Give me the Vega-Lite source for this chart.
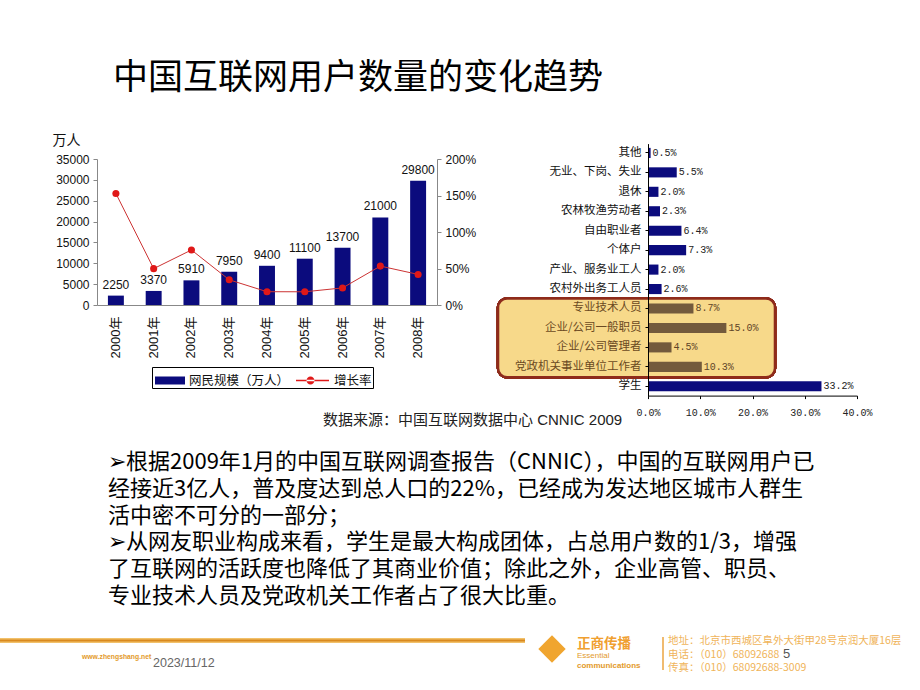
{
  "$schema": "https://vega.github.io/schema/vega-lite/v6.json",
  "width": 920,
  "height": 690,
  "padding": 0,
  "autosize": "none",
  "background": "white",
  "config": {"view": {"stroke": null}, "axis": {"grid": false}},
  "data": {"values": [{}]},
  "layer": [
    {
      "data": {"values": [
        {"year": "2000年", "users": 2250, "growth": 1.528},
        {"year": "2001年", "users": 3370, "growth": 0.498},
        {"year": "2002年", "users": 5910, "growth": 0.754},
        {"year": "2003年", "users": 7950, "growth": 0.345},
        {"year": "2004年", "users": 9400, "growth": 0.182},
        {"year": "2005年", "users": 11100, "growth": 0.181},
        {"year": "2006年", "users": 13700, "growth": 0.234},
        {"year": "2007年", "users": 21000, "growth": 0.533},
        {"year": "2008年", "users": 29800, "growth": 0.419}
      ]},
      "layer": [
        {"layer": [
          {"mark": {"type": "bar"},
           "encoding": {
             "x": {"field": "year", "type": "ordinal", "scale": {"range": [97, 437], "paddingInner": 0.578, "paddingOuter": 0.289},
                   "axis": {"orient": "bottom", "offset": -385, "title": null, "labelAngle": -90, "labelFont": "Liberation Sans, Noto Sans CJK SC", "labelFontSize": 13, "labelColor": "#111", "ticks": false, "labelPadding": 11, "domainColor": "#888"}},
             "y": {"field": "users", "type": "quantitative", "scale": {"domain": [0, 35000], "range": [305, 159], "nice": false},
                   "axis": {"orient": "left", "offset": -97, "values": [0, 5000, 10000, 15000, 20000, 25000, 30000, 35000], "format": "d", "title": "万人", "titleAngle": 0, "titleAlign": "left", "titleBaseline": "bottom", "titleX": -45, "titleY": 147, "titleFont": "Noto Sans CJK SC", "titleFontSize": 14, "titleFontWeight": "normal", "titleColor": "#111", "labelFont": "Liberation Sans", "labelFontSize": 12, "labelColor": "#111", "tickSize": 4, "tickColor": "#888", "domainColor": "#888", "labelPadding": 4}},
             "color": {"datum": "网民规模（万人）", "type": "nominal",
                       "scale": {"domain": ["网民规模（万人）", "增长率"], "range": ["#0B0B7D", "#E01818"]},
                       "legend": {"orient": "none", "legendX": 152, "legendY": 367, "direction": "horizontal", "title": null, "strokeColor": "#000", "fillColor": "white", "padding": 1, "symbolSize": 625,
                                  "symbolType": {"expr": "datum.value === '增长率' ? 'M-1.16,-0.06H1.48V0.06H-1.16Z M-0.32,0A0.32,0.32 0 1,0 0.32,0A0.32,0.32 0 1,0 -0.32,0Z' : 'M-0.84,-0.32H1.56V0.32H-0.84Z'"},
                                  "symbolStrokeWidth": 0, "symbolOpacity": 1, "labelFont": "Noto Sans CJK SC", "labelFontSize": 12.5, "labelColor": "#111", "labelOffset": 11, "columnPadding": 6}}
           }},
          {"mark": {"type": "text", "baseline": "bottom", "dy": -4, "font": "Liberation Sans", "fontSize": 12, "color": "#111"},
           "encoding": {
             "x": {"field": "year", "type": "ordinal", "scale": {"range": [97, 437], "paddingInner": 0.578, "paddingOuter": 0.289}},
             "y": {"field": "users", "type": "quantitative"},
             "text": {"field": "users", "type": "quantitative", "format": "d"}
           }}
        ]},
        {"layer": [
          {"mark": {"type": "line", "color": "#CC3333", "strokeWidth": 1},
           "encoding": {
             "x": {"field": "year", "type": "ordinal", "scale": {"range": [97, 437], "paddingInner": 0.578, "paddingOuter": 0.289}},
             "y": {"field": "growth", "type": "quantitative", "scale": {"domain": [0, 2], "range": [305, 159], "nice": false},
                   "axis": {"orient": "right", "offset": -483, "values": [0, 0.5, 1, 1.5, 2], "format": ".0%", "title": null, "labelFont": "Liberation Sans", "labelFontSize": 12, "labelColor": "#111", "tickSize": 4, "tickColor": "#888", "domainColor": "#888", "labelPadding": 4}}
           }},
          {"mark": {"type": "point", "filled": true, "size": 50, "opacity": 1},
           "encoding": {
             "x": {"field": "year", "type": "ordinal", "scale": {"range": [97, 437], "paddingInner": 0.578, "paddingOuter": 0.289}},
             "y": {"field": "growth", "type": "quantitative"},
             "color": {"datum": "增长率", "type": "nominal"}
           }}
        ]}
      ],
      "resolve": {"scale": {"y": "independent"}, "axis": {"y": "independent"}}
    },
    {
      "data": {"values": [
        {"occ": "其他", "pct": 0.5},
        {"occ": "无业、下岗、失业", "pct": 5.5},
        {"occ": "退休", "pct": 2.0},
        {"occ": "农林牧渔劳动者", "pct": 2.3},
        {"occ": "自由职业者", "pct": 6.4},
        {"occ": "个体户", "pct": 7.3},
        {"occ": "产业、服务业工人", "pct": 2.0},
        {"occ": "农村外出务工人员", "pct": 2.6},
        {"occ": "专业技术人员", "pct": 8.7},
        {"occ": "企业/公司一般职员", "pct": 15.0},
        {"occ": "企业/公司管理者", "pct": 4.5},
        {"occ": "党政机关事业单位工作者", "pct": 10.3},
        {"occ": "学生", "pct": 33.2}
      ]},
      "transform": [{"calculate": "format(datum.pct, '.1f') + '%'", "as": "label"}],
      "layer": [
        {"mark": {"type": "rect", "fill": "#F7D98A", "stroke": "#8E2B1B", "strokeWidth": 2.5, "cornerRadius": 9, "yOffset": -10, "y2Offset": 10.5},
         "encoding": {
           "x": {"datum": -28.7, "type": "quantitative", "scale": {"domain": [0, 40], "range": [648, 857], "nice": false}},
           "x2": {"datum": 24.3},
           "y": {"datum": "专业技术人员", "type": "nominal", "scale": {"domain": ["其他", "无业、下岗、失业", "退休", "农林牧渔劳动者", "自由职业者", "个体户", "产业、服务业工人", "农村外出务工人员", "专业技术人员", "企业/公司一般职员", "企业/公司管理者", "党政机关事业单位工作者", "学生"], "range": [143.6, 395.6], "paddingInner": 0.48, "paddingOuter": 0.22}},
           "y2": {"datum": "党政机关事业单位工作者"}
         }},
        {"mark": {"type": "bar"},
         "encoding": {
           "x": {"field": "pct", "type": "quantitative", "scale": {"domain": [0, 40], "range": [648, 857], "nice": false},
                 "axis": {"orient": "bottom", "offset": -294.4, "title": null, "values": [0, 10, 20, 30, 40], "labelExpr": "format(datum.value, '.1f') + '%'", "labelFont": "Liberation Mono", "labelFontSize": 10, "labelColor": "#222", "labelFlush": false, "tickSize": 3, "tickColor": "#000", "domainColor": "#000", "labelPadding": 9}},
           "y": {"field": "occ", "type": "nominal", "sort": null,
                 "scale": {"domain": ["其他", "无业、下岗、失业", "退休", "农林牧渔劳动者", "自由职业者", "个体户", "产业、服务业工人", "农村外出务工人员", "专业技术人员", "企业/公司一般职员", "企业/公司管理者", "党政机关事业单位工作者", "学生"], "range": [143.6, 395.6], "paddingInner": 0.48, "paddingOuter": 0.22},
                 "axis": {"orient": "left", "offset": -648, "title": null, "labelFont": "Noto Sans CJK SC", "labelFontSize": 11.5,
                          "labelColor": {"condition": {"test": "indexof(['专业技术人员','企业/公司一般职员','企业/公司管理者','党政机关事业单位工作者'], datum.value) >= 0", "value": "#6B4A22"}, "value": "#111"},
                          "tickSize": 3, "tickColor": "#000", "domainColor": "#000", "labelPadding": 4, "zindex": 1, "labelLimit": 200}},
           "color": {"condition": {"test": "indexof(['专业技术人员','企业/公司一般职员','企业/公司管理者','党政机关事业单位工作者'], datum.occ) >= 0", "value": "#735A3C"}, "value": "#0B0B7D"}
         }},
        {"mark": {"type": "text", "align": "left", "baseline": "middle", "dx": 2, "font": "Liberation Mono", "fontSize": 10},
         "encoding": {
           "x": {"field": "pct", "type": "quantitative"},
           "y": {"field": "occ", "type": "nominal", "sort": null},
           "text": {"field": "label"},
           "color": {"condition": {"test": "indexof(['专业技术人员','企业/公司一般职员','企业/公司管理者','党政机关事业单位工作者'], datum.occ) >= 0", "value": "#5E4428"}, "value": "#222"}
         }}
      ]
    },
    {
      "layer": [
        {"mark": {"type": "text", "text": "中国互联网用户数量的变化趋势", "align": "left", "baseline": "middle", "font": "Noto Sans CJK SC", "fontSize": 35, "color": "#000"},
         "encoding": {"x": {"datum": 113, "type": "quantitative", "scale": {"domain": [0, 920], "range": [0, 920], "nice": false, "zero": false}, "axis": null},
                      "y": {"datum": 78, "type": "quantitative", "scale": {"domain": [0, 690], "range": [0, 690], "nice": false, "zero": false}, "axis": null}}},
        {"mark": {"type": "text", "text": "数据来源：中国互联网数据中心 CNNIC 2009", "align": "left", "baseline": "middle", "font": "Liberation Sans, Noto Sans CJK SC", "fontSize": 15, "color": "#222"},
         "encoding": {"x": {"datum": 323, "type": "quantitative"}, "y": {"datum": 420, "type": "quantitative"}}},
        {"mark": {"type": "rect", "fill": {"gradient": "linear", "x1": 0, "y1": 0, "x2": 0, "y2": 1, "stops": [{"offset": 0, "color": "#F8CF7E"}, {"offset": 0.5, "color": "#D9891E"}, {"offset": 1, "color": "#F8CF7E"}]}},
         "encoding": {"x": {"datum": 0, "type": "quantitative"}, "x2": {"datum": 525}, "y": {"datum": 638, "type": "quantitative"}, "y2": {"datum": 643}}},
        {"mark": {"type": "text", "text": "www.zhengshang.net", "align": "left", "baseline": "middle", "font": "Liberation Sans", "fontSize": 6.8, "fontWeight": "bold", "color": "#E39A2B"},
         "encoding": {"x": {"datum": 82, "type": "quantitative"}, "y": {"datum": 657, "type": "quantitative"}}},
        {"mark": {"type": "text", "text": "2023/11/12", "align": "left", "baseline": "middle", "font": "Liberation Sans", "fontSize": 12.5, "color": "#666"},
         "encoding": {"x": {"datum": 153, "type": "quantitative"}, "y": {"datum": 663, "type": "quantitative"}}},
        {"mark": {"type": "point", "shape": "diamond", "filled": true, "size": 750, "color": "#F0A52F", "opacity": 1},
         "encoding": {"x": {"datum": 552, "type": "quantitative"}, "y": {"datum": 649, "type": "quantitative"}}},
        {"mark": {"type": "text", "text": "正商传播", "align": "left", "baseline": "middle", "font": "Noto Sans CJK SC", "fontSize": 13.5, "fontWeight": "bold", "color": "#F0A030"},
         "encoding": {"x": {"datum": 577, "type": "quantitative"}, "y": {"datum": 643.5, "type": "quantitative"}}},
        {"mark": {"type": "text", "text": "Essential", "align": "left", "baseline": "middle", "font": "Liberation Sans", "fontSize": 8, "color": "#E39A2B"},
         "encoding": {"x": {"datum": 577, "type": "quantitative"}, "y": {"datum": 656, "type": "quantitative"}}},
        {"mark": {"type": "text", "text": "communications", "align": "left", "baseline": "middle", "font": "Liberation Sans", "fontSize": 8, "fontWeight": "bold", "color": "#E39A2B"},
         "encoding": {"x": {"datum": 577, "type": "quantitative"}, "y": {"datum": 666, "type": "quantitative"}}},
        {"mark": {"type": "rule", "color": "#EBA540", "strokeWidth": 1.5},
         "encoding": {"x": {"datum": 663, "type": "quantitative"}, "y": {"datum": 637, "type": "quantitative"}, "y2": {"datum": 670}}},
        {"mark": {"type": "text", "text": "地址：北京市西城区阜外大街甲28号京润大厦16层", "align": "left", "baseline": "middle", "font": "Noto Sans CJK SC", "fontSize": 10.5, "color": "#F0B45A"},
         "encoding": {"x": {"datum": 668, "type": "quantitative"}, "y": {"datum": 641, "type": "quantitative"}}},
        {"mark": {"type": "text", "text": "电话：（010）68092688", "align": "left", "baseline": "middle", "font": "Noto Sans CJK SC", "fontSize": 10.5, "color": "#F0B45A"},
         "encoding": {"x": {"datum": 668, "type": "quantitative"}, "y": {"datum": 654.5, "type": "quantitative"}}},
        {"mark": {"type": "text", "text": "传真：（010）68092688-3009", "align": "left", "baseline": "middle", "font": "Noto Sans CJK SC", "fontSize": 10.5, "color": "#F0B45A"},
         "encoding": {"x": {"datum": 668, "type": "quantitative"}, "y": {"datum": 668, "type": "quantitative"}}},
        {"mark": {"type": "text", "text": "5", "align": "left", "baseline": "middle", "font": "Liberation Sans", "fontSize": 13, "color": "#555"},
         "encoding": {"x": {"datum": 783, "type": "quantitative"}, "y": {"datum": 654, "type": "quantitative"}}}
      ]
    },
    {
      "data": {"values": [
        {"line": 1, "text": "➢根据2009年1月的中国互联网调查报告（CNNIC），中国的互联网用户已"},
        {"line": 2, "text": "经接近3亿人，普及度达到总人口的22%，已经成为发达地区城市人群生"},
        {"line": 3, "text": "活中密不可分的一部分；"},
        {"line": 4, "text": "➢从网友职业构成来看，学生是最大构成团体，占总用户数的1/3，增强"},
        {"line": 5, "text": "了互联网的活跃度也降低了其商业价值；除此之外，企业高管、职员、"},
        {"line": 6, "text": "专业技术人员及党政机关工作者占了很大比重。"}
      ]},
      "mark": {"type": "text", "align": "left", "baseline": "middle", "font": "Noto Sans CJK SC", "fontSize": 22, "color": "#000"},
      "encoding": {
        "x": {"datum": 108, "type": "quantitative", "scale": {"domain": [0, 920], "range": [0, 920], "nice": false, "zero": false}, "axis": null},
        "y": {"field": "line", "type": "quantitative", "scale": {"domain": [1, 6], "range": [462, 596], "nice": false, "zero": false}, "axis": null},
        "text": {"field": "text"}
      }
    }
  ],
  "resolve": {"scale": {"x": "independent", "y": "independent"}, "axis": {"x": "independent", "y": "independent"}}
}
